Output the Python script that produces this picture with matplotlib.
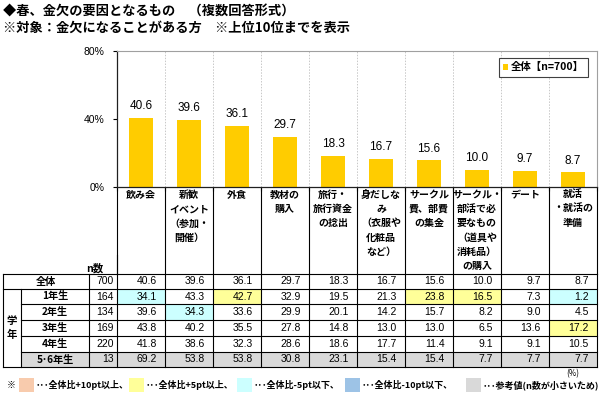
import numpy as np
import matplotlib
matplotlib.use('Agg')
import matplotlib.pyplot as plt
from matplotlib import transforms
from matplotlib.patches import Rectangle

plt.rcParams['font.family'] = ['Noto Sans CJK JP', 'DejaVu Sans']
NUM_FONT = ['Liberation Sans', 'Noto Sans CJK JP']

# --- data ---
categories = ['飲み会', '新歓\nイベント\n（参加・\n開催）', '外食', '教材の\n購入',
              '旅行・\n旅行資金\nの捻出', '身だしな\nみ\n（衣服や\n化粧品\nなど）',
              'サークル\n費、部費\nの集金', 'サークル・\n部活で必\n要なもの\n（道具や\n消耗品）\nの購入',
              'デート', '就活\n・就活の\n準備']
total = [40.6, 39.6, 36.1, 29.7, 18.3, 16.7, 15.6, 10.0, 9.7, 8.7]
total_n = 700
grades = ['1年生', '2年生', '3年生', '4年生', '5･6年生']
grade_n = [164, 134, 169, 220, 13]
grade_vals = [
    [34.1, 43.3, 42.7, 32.9, 19.5, 21.3, 23.8, 16.5, 7.3, 1.2],
    [39.6, 34.3, 33.6, 29.9, 20.1, 14.2, 15.7, 8.2, 9.0, 4.5],
    [43.8, 40.2, 35.5, 27.8, 14.8, 13.0, 13.0, 6.5, 13.6, 17.2],
    [41.8, 38.6, 32.3, 28.6, 18.6, 17.7, 11.4, 9.1, 9.1, 10.5],
    [69.2, 53.8, 53.8, 30.8, 23.1, 15.4, 15.4, 7.7, 7.7, 7.7],
]
small_n_rows = [4]  # reference value rows (grey)

BAR_COLOR = '#FFCC00'
C_P10 = '#F8CBAD'
C_P5 = '#FFFF99'
C_M5 = '#CCFFFF'
C_M10 = '#9DC3E6'
C_GRAY = '#D9D9D9'

W, H = 600, 393
fig = plt.figure(figsize=(W / 100, H / 100), dpi=100)

# overlay axes in pixel coords (y downward)
ov = fig.add_axes([0, 0, 1, 1], zorder=0)
ov.set_xlim(0, W)
ov.set_ylim(H, 0)
ov.axis('off')

# bar chart axes
x_left, x_right, y_top, y_bot = 117, 597, 51, 187
ax = fig.add_axes([x_left / W, 1 - y_bot / H, (x_right - x_left) / W, (y_bot - y_top) / H], zorder=2)
ax.patch.set_alpha(0)
x = np.arange(len(categories))
bars = ax.bar(x, total, width=0.5, color=BAR_COLOR, label=f'全体【n={total_n}】')
for xi, v in zip(x, total):
    ax.annotate(f'{v:.1f}', (xi, v), xytext=(0, 4), textcoords='offset points',
                ha='center', va='bottom', fontsize=8.5, family=NUM_FONT)
ax.set_xlim(-0.5, len(categories) - 0.5)
ax.set_ylim(0, 80)
ax.set_yticks([0, 40, 80])
ax.set_yticklabels(['0%', '40%', '80%'], fontsize=7.5, family=NUM_FONT)
ax.tick_params(axis='y', length=3, pad=6, width=0.8)
ax.set_xticks(np.arange(len(categories) + 1) - 0.5)
ax.set_xticklabels([])
ax.tick_params(axis='x', length=3, width=0.8)
for b in np.arange(1, len(categories)) - 0.5:
    ax.axvline(b, color='#C8C8C8', lw=0.7, ls=(0, (1.5, 1.5)), zorder=0)
for s in ['top', 'right']:
    ax.spines[s].set_color('#A0A0A0')
    ax.spines[s].set_linewidth(0.8)
for s in ['left', 'bottom']:
    ax.spines[s].set_color('#202020')
    ax.spines[s].set_linewidth(0.9)
leg = ax.legend(loc='upper right', bbox_to_anchor=(0.993, 0.985),
                handlelength=0.5, handleheight=0.5, handletextpad=0.3,
                borderpad=0.4, fancybox=False, framealpha=1,
                prop={'weight': 'bold', 'size': 7.5})
leg.get_frame().set_edgecolor('#404040')
leg.get_frame().set_linewidth(0.8)

# title
fig.text(3 / W, 1 - 12 / H, '◆春、金欠の要因となるもの　（複数回答形式）', fontsize=9.5,
         weight='bold', va='center', ha='left')
fig.text(3 / W, 1 - 28 / H, '※対象：金欠になることがある方　※上位10位までを表示', fontsize=9.5,
         weight='bold', va='center', ha='left')

# column transform: x from bar axes data, y from overlay pixels
bt = transforms.blended_transform_factory(ax.transData, ov.transData)
bounds = np.arange(len(categories) + 1) - 0.5

# category label area
cat_top, tab_top = 187, 274
clip = transforms.TransformedBbox(transforms.Bbox([[x_left, cat_top], [x_right, tab_top]]), ov.transData)
for xi, lab in zip(x, categories):
    t = ov.text(xi, 190, lab, transform=bt, ha='center', va='top', fontsize=7.2,
                weight='bold', linespacing=1.52, multialignment='center')
    t.set_clip_on(True)
    t.set_clip_box(clip)
for b in bounds:
    ov.plot([b, b], [cat_top, tab_top], transform=bt, color='black', lw=0.8)

# table
row_edges = [274, 289, 304, 320, 336, 352, 367]
tl, tg, tn = 3, 21, 89
rows = [('全体', total_n, total)] + list(zip(grades, grade_n, grade_vals))

# cell backgrounds
for r, (name, n, vals) in enumerate(rows):
    y0, y1 = row_edges[r], row_edges[r + 1]
    if r - 1 in small_n_rows:
        ov.add_patch(Rectangle((tg, y0), x_right - tg, y1 - y0, color=C_GRAY, lw=0))
        continue
    if r == 0:
        continue
    for i, v in enumerate(vals):
        d = v - total[i]
        c = None
        if d >= 10:
            c = C_P10
        elif d >= 5:
            c = C_P5
        elif d <= -10:
            c = C_M10
        elif d <= -5:
            c = C_M5
        if c:
            ov.add_patch(Rectangle((bounds[i], y0), 1, y1 - y0, transform=bt, color=c, lw=0))

# grid lines
lw = 0.8
for r, y in enumerate(row_edges):
    start = tl if r in (0, 1, len(row_edges) - 1) else tg
    ov.plot([start, x_right], [y, y], color='black', lw=lw)
ov.plot([tl, tl], [row_edges[0], row_edges[-1]], color='black', lw=lw)
ov.plot([tg, tg], [row_edges[1], row_edges[-1]], color='black', lw=lw)
ov.plot([tn, tn], [row_edges[0], row_edges[-1]], color='black', lw=lw)
for b in bounds:
    ov.plot([b, b], [row_edges[0], row_edges[-1]], transform=bt, color='black', lw=lw)
ov.plot([x_left, x_left], [255, row_edges[0]], color='black', lw=lw)

# table text
ov.text((tn + x_left) / 2 - 8, 268, 'n数', ha='center', va='center', fontsize=7.5, weight='bold')
ov.text((tl + tg) / 2, (row_edges[1] + row_edges[-1]) / 2, '学\n年', ha='center', va='center',
        fontsize=7.5, weight='bold', linespacing=1.4)
for r, (name, n, vals) in enumerate(rows):
    yc = (row_edges[r] + row_edges[r + 1]) / 2
    lx = (tl + tn) / 2 if r == 0 else (tg + tn) / 2
    ov.text(lx, yc, name, ha='center', va='center', fontsize=7.3, weight='bold')
    ov.text(x_left - 3, yc, f'{n}', ha='right', va='center', fontsize=7.5, family=NUM_FONT)
    for i, v in enumerate(vals):
        ov.text(bounds[i + 1] - 0.17, yc, f'{v:.1f}', transform=bt, ha='right', va='center',
                fontsize=7.5, family=NUM_FONT)

# footer legend
fy = 385
ov.text(573, 374, '(%)', ha='center', va='center', fontsize=5.8)
ov.text(11, fy, '※', ha='center', va='center', fontsize=6.5)
footer = [(19, C_P10, '･･･全体比+10pt以上、'), (129, C_P5, '･･･全体比+5pt以上、'),
          (237, C_M5, '･･･全体比-5pt以下、'), (345, C_M10, '･･･全体比-10pt以下、'),
          (466, C_GRAY, '･･･参考値(n数が小さいため)')]
for fx, col, txt in footer:
    ov.add_patch(Rectangle((fx, fy - 7), 15, 14, color=col, lw=0))
    ov.text(fx + 17, fy, txt, ha='left', va='center', fontsize=6.5, weight='bold')

fig.savefig('out.png', dpi=100)
